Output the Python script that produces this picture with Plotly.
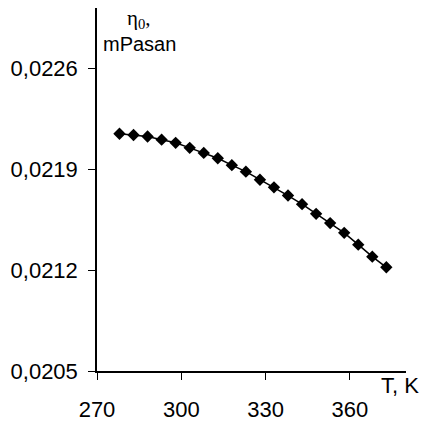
import plotly.graph_objects as go

temperature_K = [278, 283, 288, 293, 298, 303, 308, 313, 318, 323,
                 328, 333, 338, 343, 348, 353, 358, 363, 368, 373]
viscosity = [0.022147, 0.022138, 0.022128, 0.022106, 0.022084, 0.022049,
             0.022014, 0.021977, 0.021929, 0.021884, 0.021828, 0.021775,
             0.021718, 0.021658, 0.021591, 0.021527, 0.021459, 0.021377,
             0.021294, 0.021220]

x_ticks = [270, 300, 330, 360]
y_ticks = [0.0205, 0.0212, 0.0219, 0.0226]
y_tick_labels = ["0,0205", "0,0212", "0,0219", "0,0226"]

fig = go.Figure()
fig.add_trace(go.Scatter(
    x=temperature_K, y=viscosity, mode="lines+markers",
    line=dict(color="black", width=1.5),
    marker=dict(symbol="diamond", size=9.5, color="black"),
    showlegend=False, cliponaxis=False,
))

font_family = "Liberation Sans, Arial, sans-serif"
fig.update_layout(
    width=427, height=424,
    margin=dict(l=97, r=21, t=8, b=53, autoexpand=False),
    paper_bgcolor="white", plot_bgcolor="white",
    font=dict(family=font_family, size=22, color="black"),
    xaxis=dict(range=[270, 380], tickvals=x_ticks, ticks="outside", ticklen=7,
               tickwidth=1.3, tickcolor="black", showline=True, linecolor="black",
               linewidth=1.5, showgrid=False, zeroline=False, automargin=False,
               ticklabelstandoff=11),
    yaxis=dict(range=[0.0205, 0.02302], tickvals=y_ticks, ticktext=y_tick_labels,
               ticks="outside", ticklen=7, tickwidth=1.3, tickcolor="black",
               showline=True, linecolor="black", linewidth=1.5, automargin=False,
               showgrid=False, zeroline=False, ticklabelstandoff=6),
    annotations=[
        dict(text="T, K", xref="paper", yref="paper", x=1.05, y=0,
             xanchor="right", yanchor="top", yshift=0, showarrow=False,
             font=dict(size=22, family=font_family)),
        dict(text="η<sub>0</sub>,", xref="paper", yref="paper", x=0.135, y=1,
             xanchor="center", yanchor="top", yshift=4, showarrow=False,
             font=dict(size=21, family="Liberation Serif, Times New Roman, serif")),
        dict(text="mPasan", xref="paper", yref="paper", x=0.012, y=1,
             xanchor="left", yanchor="top", yshift=-23, showarrow=False,
             font=dict(size=20, family=font_family)),
    ],
)

fig.write_html("out.html", config={"displayModeBar": False},
               post_script="document.body.style.margin='0';document.body.style.overflow='hidden';")
